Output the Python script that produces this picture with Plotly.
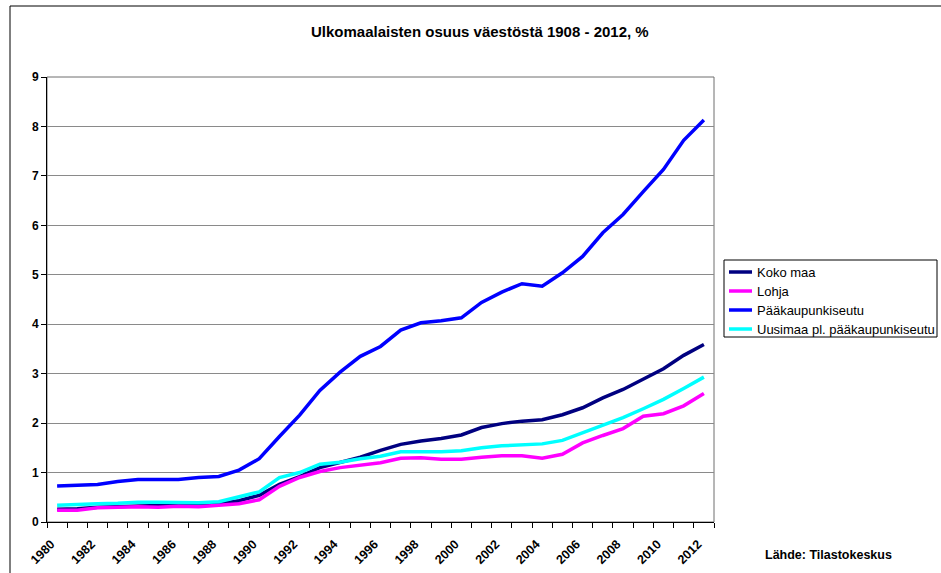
import plotly.graph_objects as go

years = list(range(1980, 2013))
tick_years = list(range(1980, 2013, 2))
tick_labels = [str(y) for y in tick_years]

koko_maa = [0.26, 0.27, 0.30, 0.31, 0.33, 0.34, 0.34, 0.35, 0.37, 0.43,
            0.54, 0.76, 0.92, 1.10, 1.21, 1.31, 1.45, 1.57, 1.64, 1.69,
            1.76, 1.91, 1.99, 2.04, 2.07, 2.17, 2.31, 2.51, 2.68, 2.89,
            3.10, 3.37, 3.59]
lohja = [0.24, 0.24, 0.29, 0.30, 0.31, 0.30, 0.32, 0.31, 0.34, 0.37,
         0.45, 0.72, 0.90, 1.02, 1.10, 1.15, 1.20, 1.29, 1.30, 1.27,
         1.27, 1.31, 1.34, 1.34, 1.29, 1.37, 1.60, 1.75, 1.89, 2.14,
         2.19, 2.35, 2.60]
paakaupunkiseutu = [0.73, 0.74, 0.76, 0.82, 0.86, 0.86, 0.86, 0.90, 0.92, 1.05,
                    1.28, 1.73, 2.16, 2.66, 3.03, 3.35, 3.55, 3.88, 4.03, 4.07,
                    4.13, 4.44, 4.65, 4.82, 4.77, 5.04, 5.37, 5.85, 6.22, 6.68,
                    7.13, 7.72, 8.13]
uusimaa = [0.34, 0.36, 0.37, 0.38, 0.40, 0.40, 0.39, 0.39, 0.41, 0.51,
           0.61, 0.90, 1.00, 1.17, 1.21, 1.28, 1.33, 1.42, 1.42, 1.42,
           1.44, 1.50, 1.54, 1.56, 1.58, 1.65, 1.80, 1.95, 2.11, 2.29,
           2.48, 2.70, 2.93]

series_names = ["Koko maa", "Lohja", "Pääkaupunkiseutu",
                "Uusimaa pl. pääkaupunkiseutu"]
series_values = [koko_maa, lohja, paakaupunkiseutu, uusimaa]
series_colors = ["#000080", "#FF00FF", "#0000FF", "#00FFFF"]

FONT = "Arial, Liberation Sans, sans-serif"

fig = go.Figure()
for name, vals, color in zip(series_names, series_values, series_colors):
    fig.add_trace(go.Scatter(x=years, y=vals, name=name, mode="lines",
                             line=dict(color=color, width=3.5),
                             showlegend=False))

W, H = 941, 573
# plot area in screen pixels
L, R, T, B = 47, 714, 77, 522
pw, ph = R - L, B - T

def px(x):
    return (x - L) / pw

def py(y):
    return (B - y) / ph

shapes = [
    dict(type="rect", xref="paper", yref="paper", x0=0, x1=1, y0=0, y1=1,
         line=dict(color="#6e6e6e", width=1), layer="below"),
    dict(type="rect", xref="paper", yref="paper", x0=px(10), x1=px(960),
         y0=py(590), y1=py(6), line=dict(color="black", width=1),
         layer="below"),
    # legend box
    dict(type="rect", xref="paper", yref="paper", x0=px(724), x1=px(937),
         y0=py(337), y1=py(260), line=dict(color="black", width=1),
         fillcolor="white", layer="above"),
]
annotations = [
    dict(text="Ulkomaalaisten osuus väestöstä 1908 - 2012, %",
         xref="paper", yref="paper", x=px(480), y=py(31),
         xanchor="center", yanchor="middle", showarrow=False,
         font=dict(family=FONT, size=15, weight="bold")),
    dict(text="Lähde: Tilastokeskus", xref="paper", yref="paper",
         x=px(829), y=py(555), xanchor="center", yanchor="middle",
         showarrow=False, font=dict(family=FONT, size=12.5, weight="bold")),
]
row_y = [272, 291, 310, 329]
for name, color, ry in zip(series_names, series_colors, row_y):
    shapes.append(dict(type="line", xref="paper", yref="paper",
                       x0=px(729), x1=px(752), y0=py(ry), y1=py(ry),
                       line=dict(color=color, width=3.5), layer="above"))
    annotations.append(dict(text=name, xref="paper", yref="paper",
                            x=px(755), y=py(ry), xanchor="left",
                            yanchor="middle", showarrow=False,
                            font=dict(family=FONT, size=13, color="black")))

fig.update_layout(
    width=W, height=H,
    margin=dict(l=L, r=W - R, t=T, b=H - B, autoexpand=False),
    paper_bgcolor="white", plot_bgcolor="white",
    font=dict(family=FONT, color="black"),
    showlegend=False,
    xaxis=dict(range=[1979.5, 2012.5], tickmode="array", tickvals=tick_years,
               ticktext=tick_labels, tickangle=-45, ticks="",
               ticklabelstandoff=9, ticklabelshift=-6,
               showgrid=False, zeroline=False, showline=True,
               linecolor="black", linewidth=1,
               tickfont=dict(family=FONT, size=12.5, weight="bold"),
               minor=dict(tick0=1979.5, dtick=1, ticks="outside", ticklen=5,
                          tickcolor="black", tickwidth=1, showgrid=False)),
    yaxis=dict(range=[0, 9], dtick=1, ticks="outside", ticklen=5,
               tickcolor="black", showgrid=True, gridcolor="#8a8a8a",
               gridwidth=1, zeroline=False, showline=True,
               linecolor="black", linewidth=1,
               tickfont=dict(family=FONT, size=12, weight="bold")),
    shapes=shapes,
    annotations=annotations,
)

fig.write_html(
    "out.html",
    config={"displayModeBar": False},
    post_script="document.body.style.margin='0';"
                "document.body.style.overflow='hidden';",
)
